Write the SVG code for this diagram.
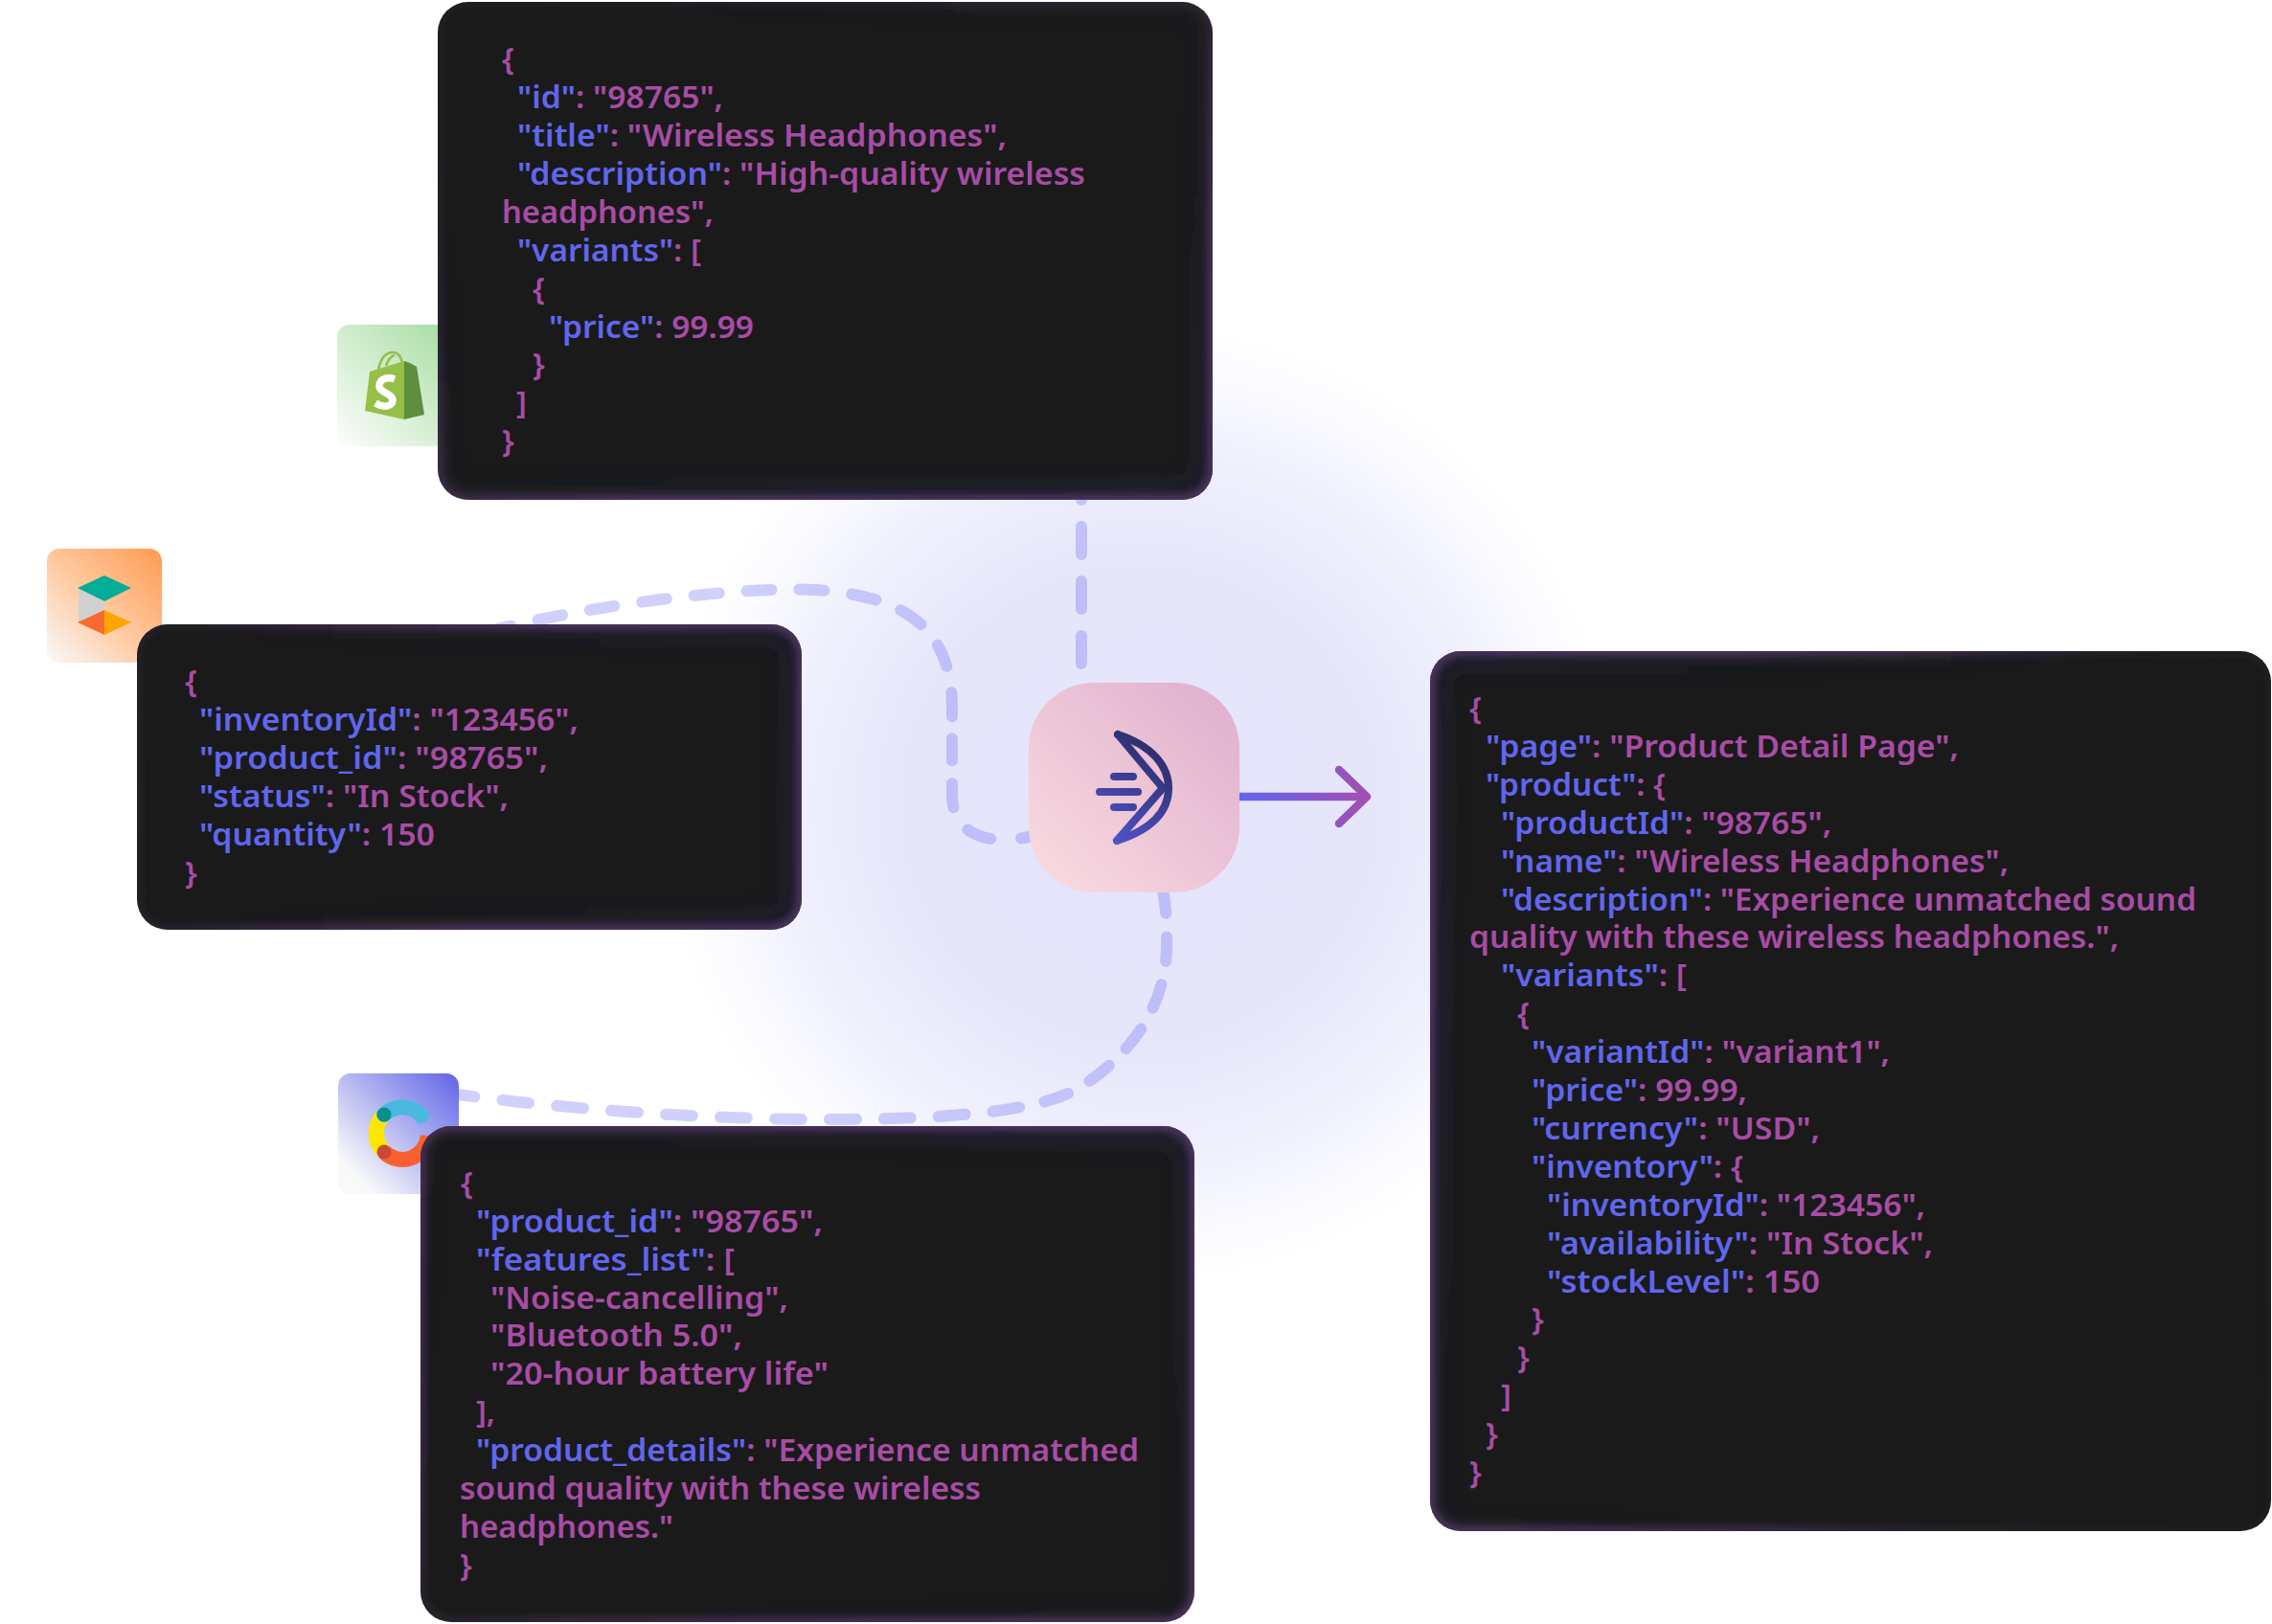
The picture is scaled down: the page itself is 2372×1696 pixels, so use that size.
<svg xmlns="http://www.w3.org/2000/svg" width="2372" height="1696" viewBox="0 0 2372 1696">
<style>
text{font-family:"Noto Sans","Open Sans","Liberation Sans",sans-serif;font-size:33px;font-weight:600;fill:#a84ca6}
.k{fill:#6066ee}
.box{fill:#1a1a1a}
.edge1{fill:none;stroke:url(#edgeA);stroke-width:8;filter:url(#b5)}
.edge2{fill:none;stroke:url(#edgeB);stroke-width:30;filter:url(#b14)}
.dash{fill:none;stroke:#6366f1;stroke-opacity:.3;stroke-width:12;stroke-linecap:round}
</style>
<defs>
<radialGradient id="glow" gradientUnits="userSpaceOnUse" cx="1190" cy="840" r="500">
<stop offset="0" stop-color="#e3e3fb"/><stop offset=".5" stop-color="#e6e6fb"/><stop offset=".72" stop-color="#efeffd"/><stop offset=".9" stop-color="#fafaff"/><stop offset="1" stop-color="#fff"/>
</radialGradient>
<radialGradient id="edgeA" gradientUnits="userSpaceOnUse" cx="1190" cy="1000" r="1400">
<stop offset="0" stop-color="#5a3a70"/><stop offset=".5" stop-color="#5a3a70"/><stop offset=".65" stop-color="#5a3a70" stop-opacity=".6"/><stop offset=".75" stop-color="#4a3555" stop-opacity=".3"/><stop offset="1" stop-color="#3a2a40" stop-opacity=".1"/>
</radialGradient>
<radialGradient id="edgeB" gradientUnits="userSpaceOnUse" cx="1190" cy="840" r="1000">
<stop offset="0" stop-color="#2c2c58" stop-opacity=".6"/><stop offset=".4" stop-color="#2c2c58" stop-opacity=".35"/><stop offset="1" stop-color="#2c2c58" stop-opacity="0"/>
</radialGradient>
<filter id="b5" x="-5%" y="-5%" width="110%" height="110%"><feGaussianBlur stdDeviation="4"/></filter>
<filter id="b14" x="-8%" y="-8%" width="116%" height="116%"><feGaussianBlur stdDeviation="14"/></filter>
<clipPath id="c1"><rect x="457" y="2" width="809" height="520" rx="32"/></clipPath>
<clipPath id="c2"><rect x="143" y="652" width="694" height="319" rx="32"/></clipPath>
<clipPath id="c3"><rect x="439" y="1176" width="808" height="518" rx="32"/></clipPath>
<clipPath id="c4"><rect x="1493" y="680" width="878" height="919" rx="32"/></clipPath>
<linearGradient id="gShop" x1="1" y1="0" x2="0" y2="1"><stop offset="0" stop-color="#a4dc9e"/><stop offset="1" stop-color="#fdfefd"/></linearGradient>
<linearGradient id="gOr" x1="1" y1="0" x2="0" y2="1"><stop offset="0" stop-color="#ff9a52"/><stop offset=".5" stop-color="#ffc79c"/><stop offset="1" stop-color="#f8f9f9"/></linearGradient>
<linearGradient id="gCo" x1="1" y1="0" x2="0" y2="1"><stop offset="0" stop-color="#6064e6"/><stop offset=".85" stop-color="#f8f9f9"/></linearGradient>
<linearGradient id="gCen" x1="0" y1="1" x2="1" y2="0"><stop offset="0" stop-color="#fbdce0"/><stop offset="1" stop-color="#deaecd"/></linearGradient>
<linearGradient id="gLogo" gradientUnits="userSpaceOnUse" x1="1150" y1="885" x2="1225" y2="790"><stop offset="0" stop-color="#5558d6"/><stop offset="1" stop-color="#2c2c68"/></linearGradient>
<linearGradient id="gArrow" gradientUnits="userSpaceOnUse" x1="1294" y1="0" x2="1429" y2="0"><stop offset="0" stop-color="#6366f1"/><stop offset="1" stop-color="#a24fb0"/></linearGradient>
</defs>
<rect id="background" width="2372" height="1696" fill="#fff"/>
<circle id="halo" cx="1190" cy="840" r="500" fill="url(#glow)"/>
<g id="connectors">
<path class="dash" stroke-dasharray="29 28" d="M1129 693V510"/>
<path class="dash" stroke-dasharray="12 32 26 28 25 24 23 23 25 28 24 28 26 28 26 29 26 29 26 29 26 29 26 29 26 29 26 29 26 29 26 29" d="M1078 873C1030 885 994 870 994 830V740C994 660 950 622 850 616C780 612 620 630 500 662"/>
<path class="dash" stroke-dasharray="24 25 25 25 26 25 26 25 26 26 26 27 28 29 28 29 28 29 28 29 28 29 28 29 28 29 28 29 28 29 28 29 28 29 28 29" d="M1214 930C1218 950 1218 965 1218 985C1219 1040 1190 1095 1130 1134C1090 1160 1000 1168 880 1169C760 1170 600 1160 470 1142"/>
<path d="M1294 832H1425" fill="none" stroke="url(#gArrow)" stroke-width="8.5"/>
<path d="M1398 804L1427 832L1398 860" fill="none" stroke="url(#gArrow)" stroke-width="8.5" stroke-linecap="round" stroke-linejoin="round"/>
</g>
<g id="icon-shopify">
<rect x="352" y="339" width="128" height="127" rx="13" fill="url(#gShop)"/>
<path d="M381 429L386 388L422 377V438Z" fill="#96bf48"/>
<path d="M422 438L443 433L435 383L428 379L422 377Z" fill="#5e8e3e"/>
<path d="M395 386C398 372 404 368 410 368C417 368 419 374 420 379M403 382C405 376 408 372 412 371" fill="none" stroke="#96bf48" stroke-width="2.6"/>
<path d="M412 396C404 393 396 396 396 403C396 410 410 411 410 418C410 425 400 426 392 421" fill="none" stroke="#fff" stroke-width="7.5"/>
</g>
<g id="icon-inventory">
<rect x="49" y="573" width="120" height="119" rx="13" fill="url(#gOr)"/>
<path d="M81 614L109 601L137 614L109 628Z" fill="#05ac98"/>
<path d="M82 615L109 628V637L82 650Z" fill="#cfd0cf"/>
<path d="M81 650L109 637V663Z" fill="#f96a30"/>
<path d="M109 637L137 650L109 663Z" fill="#ffa500"/>
</g>
<g id="icon-contentful">
<rect x="353" y="1121" width="126" height="126" rx="13" fill="url(#gCo)"/>
<path d="M401 1203A27 27 0 0 1 401 1164" fill="none" stroke="#ffe600" stroke-width="16"/>
<path d="M401 1164A27 27 0 0 1 440 1165" fill="none" stroke="#4bb9df" stroke-width="16" stroke-linecap="round"/>
<path d="M401 1203A27 27 0 0 0 447 1186" fill="none" stroke="#f9602f" stroke-width="16"/>
<circle cx="401" cy="1164" r="7.5" fill="#0a8f8c"/>
<circle cx="401" cy="1203" r="7.5" fill="#c9483a"/>
</g>
<g id="box-product">
<rect class="box" x="457" y="2" width="809" height="520" rx="32"/>
<g clip-path="url(#c1)"><rect class="edge2" x="457" y="2" width="809" height="520" rx="32"/><rect class="edge1" x="457" y="2" width="809" height="520" rx="32"/></g>
<g transform="translate(0 0.3)">
<text x="524" y="73">{</text>
<text x="540" y="113" textLength="215" lengthAdjust="spacingAndGlyphs"><tspan class="k">"id"</tspan>: "98765",</text>
<text x="540" y="153" textLength="511" lengthAdjust="spacingAndGlyphs"><tspan class="k">"title"</tspan>: "Wireless Headphones",</text>
<text x="540" y="193" textLength="593" lengthAdjust="spacingAndGlyphs"><tspan class="k">"description"</tspan>: "High-quality wireless</text>
<text x="524" y="233" textLength="221" lengthAdjust="spacingAndGlyphs">headphones",</text>
<text x="540" y="273" textLength="192" lengthAdjust="spacingAndGlyphs"><tspan class="k">"variants"</tspan>: [</text>
<text x="556" y="313">{</text>
<text x="573" y="353" textLength="214" lengthAdjust="spacingAndGlyphs"><tspan class="k">"price"</tspan>: 99.99</text>
<text x="556" y="392">}</text>
<text x="539" y="432">]</text>
<text x="524" y="472">}</text>
</g>
</g>
<g id="box-inventory">
<rect class="box" x="143" y="652" width="694" height="319" rx="32"/>
<g clip-path="url(#c2)"><rect class="edge2" x="143" y="652" width="694" height="319" rx="32"/><rect class="edge1" x="143" y="652" width="694" height="319" rx="32"/></g>
<g transform="translate(0 0.3)">
<text x="193" y="723">{</text>
<text x="208" y="763" textLength="396" lengthAdjust="spacingAndGlyphs"><tspan class="k">"inventoryId"</tspan>: "123456",</text>
<text x="208" y="803" textLength="364" lengthAdjust="spacingAndGlyphs"><tspan class="k">"product_id"</tspan>: "98765",</text>
<text x="208" y="843" textLength="323" lengthAdjust="spacingAndGlyphs"><tspan class="k">"status"</tspan>: "In Stock",</text>
<text x="208" y="883" textLength="246" lengthAdjust="spacingAndGlyphs"><tspan class="k">"quantity"</tspan>: 150</text>
<text x="193" y="923">}</text>
</g>
</g>
<g id="box-features">
<rect class="box" x="439" y="1176" width="808" height="518" rx="32"/>
<g clip-path="url(#c3)"><rect class="edge2" x="439" y="1176" width="808" height="518" rx="32"/><rect class="edge1" x="439" y="1176" width="808" height="518" rx="32"/></g>
<g transform="translate(0 0.8)">
<text x="481" y="1246">{</text>
<text x="497" y="1286" textLength="362" lengthAdjust="spacingAndGlyphs"><tspan class="k">"product_id"</tspan>: "98765",</text>
<text x="497" y="1326" textLength="270" lengthAdjust="spacingAndGlyphs"><tspan class="k">"features_list"</tspan>: [</text>
<text x="512" y="1366" textLength="311" lengthAdjust="spacingAndGlyphs">"Noise-cancelling",</text>
<text x="512" y="1405" textLength="263" lengthAdjust="spacingAndGlyphs">"Bluetooth 5.0",</text>
<text x="512" y="1445" textLength="353" lengthAdjust="spacingAndGlyphs">"20-hour battery life"</text>
<text x="497" y="1485" textLength="20" lengthAdjust="spacingAndGlyphs">],</text>
<text x="497" y="1525" textLength="692" lengthAdjust="spacingAndGlyphs"><tspan class="k">"product_details"</tspan>: "Experience unmatched</text>
<text x="480" y="1565" textLength="544" lengthAdjust="spacingAndGlyphs">sound quality with these wireless</text>
<text x="480" y="1605" textLength="223" lengthAdjust="spacingAndGlyphs">headphones."</text>
<text x="480" y="1645">}</text>
</g>
</g>
<g id="box-page">
<rect class="box" x="1493" y="680" width="878" height="919" rx="32"/>
<g clip-path="url(#c4)"><rect class="edge2" x="1493" y="680" width="878" height="919" rx="32"/><rect class="edge1" x="1493" y="680" width="878" height="919" rx="32"/></g>
<g transform="translate(0 0.8)">
<text x="1534" y="750">{</text>
<text x="1551" y="790" textLength="494" lengthAdjust="spacingAndGlyphs"><tspan class="k">"page"</tspan>: "Product Detail Page",</text>
<text x="1551" y="830" textLength="188" lengthAdjust="spacingAndGlyphs"><tspan class="k">"product"</tspan>: {</text>
<text x="1567" y="870" textLength="345" lengthAdjust="spacingAndGlyphs"><tspan class="k">"productId"</tspan>: "98765",</text>
<text x="1567" y="910" textLength="530" lengthAdjust="spacingAndGlyphs"><tspan class="k">"name"</tspan>: "Wireless Headphones",</text>
<text x="1567" y="950" textLength="726" lengthAdjust="spacingAndGlyphs"><tspan class="k">"description"</tspan>: "Experience unmatched sound</text>
<text x="1534" y="989" textLength="678" lengthAdjust="spacingAndGlyphs">quality with these wireless headphones.",</text>
<text x="1567" y="1029" textLength="194" lengthAdjust="spacingAndGlyphs"><tspan class="k">"variants"</tspan>: [</text>
<text x="1584" y="1069">{</text>
<text x="1599" y="1109" textLength="374" lengthAdjust="spacingAndGlyphs"><tspan class="k">"variantId"</tspan>: "variant1",</text>
<text x="1599" y="1149" textLength="225" lengthAdjust="spacingAndGlyphs"><tspan class="k">"price"</tspan>: 99.99,</text>
<text x="1599" y="1189" textLength="301" lengthAdjust="spacingAndGlyphs"><tspan class="k">"currency"</tspan>: "USD",</text>
<text x="1599" y="1229" textLength="221" lengthAdjust="spacingAndGlyphs"><tspan class="k">"inventory"</tspan>: {</text>
<text x="1615" y="1269" textLength="395" lengthAdjust="spacingAndGlyphs"><tspan class="k">"inventoryId"</tspan>: "123456",</text>
<text x="1615" y="1309" textLength="403" lengthAdjust="spacingAndGlyphs"><tspan class="k">"availability"</tspan>: "In Stock",</text>
<text x="1615" y="1349" textLength="285" lengthAdjust="spacingAndGlyphs"><tspan class="k">"stockLevel"</tspan>: 150</text>
<text x="1599" y="1388">}</text>
<text x="1584" y="1428">}</text>
<text x="1567" y="1468">]</text>
<text x="1551" y="1508">}</text>
<text x="1534" y="1548">}</text>
</g>
</g>
<g id="node-center">
<rect x="1074" y="713" width="220" height="219" rx="68" fill="url(#gCen)"/>
<g fill="none" stroke="url(#gLogo)" stroke-width="8" stroke-linecap="round" stroke-linejoin="round">
<path d="M1167 767L1214 823L1166 878"/>
<path d="M1167 767C1203 779 1220 800 1220 823C1220 848 1203 866 1166 878"/>
<path d="M1163 811H1183M1148 827H1188M1163 843H1183"/>
</g>
</g>
</svg>
